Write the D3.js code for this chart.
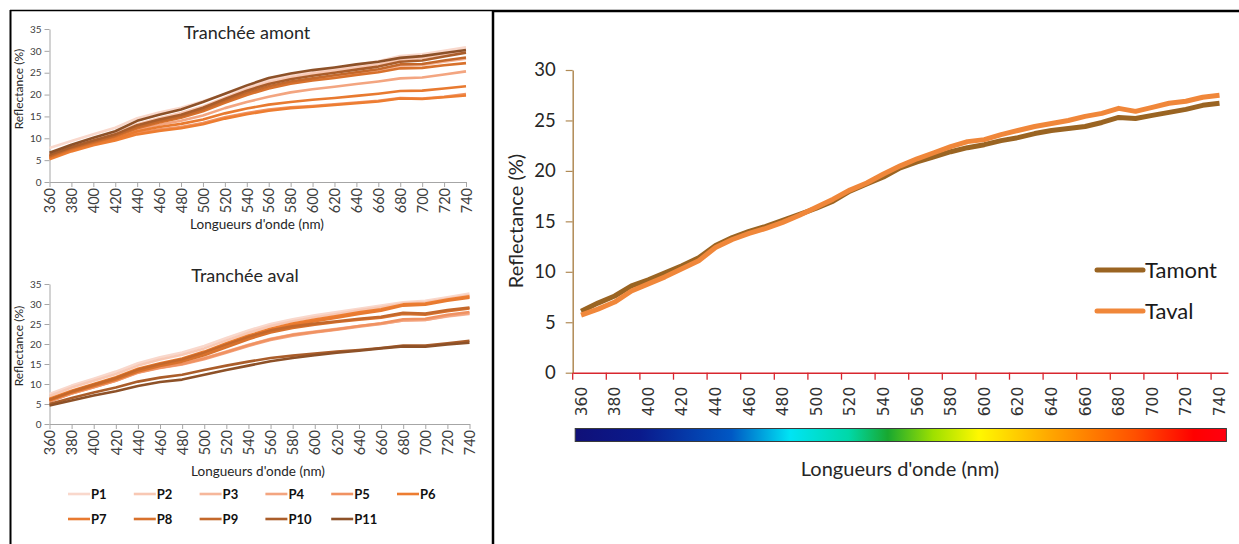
<!DOCTYPE html>
<html><head><meta charset="utf-8">
<script src="https://cdn.jsdelivr.net/npm/d3@7"></script>
<style>body{margin:0;background:#fff}svg{display:block}</style>
</head><body>
<svg id="c" width="1239" height="544"></svg>
<script>
// ---------- DATA ----------
const wl20 = [360,380,400,420,440,460,480,500,520,540,560,580,600,620,640,660,680,700,720,740];
const wl10 = [360,370,380,390,400,410,420,430,440,450,460,470,480,490,500,510,520,530,540,550,560,570,580,590,600,610,620,630,640,650,660,670,680,690,700,710,720,730,740];
const yTicksSmall = [0,5,10,15,20,25,30,35];
const yTicksBig = [0,5,10,15,20,25,30];
const seriesNames = ["P1","P2","P3","P4","P5","P6","P7","P8","P9","P10","P11"];
const seriesColors = ["#f9d8cc","#f8c8b4","#f6b79b","#f3a580","#f09262","#ed7d31","#e87a30","#d8712c","#c4682b","#aa5d2a","#8d5128"];

// Tranchée amont (values at wl20)
const amontP1  = [7.8,9.4,10.9,12.4,14.6,15.9,17.0,18.5,20.1,21.8,23.3,24.4,25.3,26.0,26.8,27.6,28.8,29.2,30.0,30.8];
const amontP2  = [6.3,8.2,9.7,11.1,13.2,14.6,15.8,17.3,19.3,21.2,22.8,23.9,24.8,25.5,26.2,26.9,28.0,28.4,29.2,29.9];
const amontP3  = [6.0,7.9,9.3,10.7,12.5,13.8,14.9,16.4,18.3,20.1,21.7,22.8,23.5,24.2,24.9,25.5,26.6,26.8,27.5,28.2];
const amontP4  = [5.8,7.5,8.9,10.2,12.0,13.1,14.0,15.2,16.9,18.3,19.5,20.5,21.2,21.8,22.4,23.0,23.7,23.9,24.6,25.3];
const amontP5  = [5.4,7.2,8.6,9.7,11.2,12.0,12.6,13.5,14.8,15.8,16.6,17.1,17.4,17.8,18.2,18.6,19.2,19.1,19.5,20.1];
const amontP6  = [5.2,7.0,8.4,9.5,10.9,11.7,12.3,13.2,14.5,15.5,16.3,16.9,17.2,17.6,18.0,18.4,19.1,19.0,19.4,19.8];
const amontP7  = [5.5,7.3,8.7,9.9,11.6,12.6,13.3,14.3,15.7,16.8,17.7,18.3,18.8,19.2,19.7,20.2,20.8,20.9,21.4,21.9];
const amontP8  = [5.7,7.6,9.0,10.4,12.3,13.6,14.7,16.2,18.1,19.9,21.4,22.5,23.2,23.8,24.5,25.1,26.0,26.1,26.7,27.2];
const amontP9  = [5.9,7.8,9.2,10.6,12.6,13.9,15.0,16.6,18.6,20.4,21.9,23.0,23.7,24.4,25.1,25.8,26.9,27.0,27.8,28.5];
const amontP10 = [6.2,8.0,9.5,10.9,13.0,14.3,15.4,17.0,19.0,20.9,22.4,23.5,24.3,25.0,25.7,26.4,27.5,27.8,28.7,29.6];
const amontP11 = [6.7,8.5,10.1,11.6,14.0,15.4,16.6,18.3,20.2,22.1,23.8,24.8,25.6,26.2,26.9,27.5,28.4,28.8,29.5,30.2];

// Tranchée aval (values at wl20)
const avalP1  = [7.5,9.6,11.3,13.1,15.2,16.7,17.9,19.5,21.5,23.4,25.0,26.2,27.2,28.0,28.8,29.6,30.4,30.8,31.7,32.6];
const avalP2  = [7.0,9.1,10.8,12.5,14.6,16.1,17.3,18.9,20.9,22.8,24.5,25.7,26.7,27.5,28.4,29.2,30.1,30.4,31.3,32.2];
const avalP3  = [5.8,7.7,9.3,10.9,13.1,14.3,15.2,16.5,18.1,19.8,21.3,22.4,23.1,23.8,24.5,25.1,25.9,26.0,26.9,27.5];
const avalP4  = [5.7,7.6,9.2,10.8,12.8,14.0,14.9,16.2,17.8,19.5,21.0,22.1,22.9,23.6,24.3,25.0,25.9,26.0,27.0,27.7];
const avalP5  = [5.6,7.6,9.2,10.8,12.9,14.1,15.0,16.4,18.0,19.7,21.2,22.3,23.0,23.7,24.5,25.2,26.2,26.3,27.3,28.0];
const avalP6  = [6.3,8.3,10.0,11.7,13.8,15.2,16.4,18.1,20.2,22.1,23.8,25.1,26.1,27.0,27.9,28.7,29.9,30.1,31.1,31.9];
const avalP7  = [6.0,8.0,9.7,11.3,13.4,14.8,16.0,17.7,19.7,21.7,23.4,24.7,25.7,26.6,27.5,28.3,29.6,29.8,30.8,31.6];
const avalP8  = [5.9,7.9,9.5,11.1,13.1,14.5,15.6,17.2,19.2,21.2,22.9,24.0,24.8,25.5,26.1,26.6,27.5,27.3,28.2,28.9];
const avalP9  = [6.1,8.1,9.8,11.5,13.6,15.0,16.2,17.9,19.9,21.8,23.4,24.4,25.1,25.7,26.3,26.8,27.8,27.6,28.5,29.1];
const avalP10 = [5.0,6.5,7.9,9.1,10.6,11.6,12.3,13.5,14.6,15.6,16.5,17.1,17.6,18.1,18.5,19.0,19.6,19.6,20.2,20.8];
const avalP11 = [4.6,5.9,7.1,8.2,9.5,10.5,11.1,12.3,13.5,14.6,15.7,16.5,17.2,17.8,18.3,18.9,19.4,19.3,19.9,20.3];

// Right chart (values at wl10)
const tamont = [6.1,6.9,7.6,8.6,9.2,9.9,10.6,11.4,12.6,13.4,14.0,14.5,15.1,15.7,16.3,17.0,18.0,18.7,19.4,20.3,20.9,21.4,21.9,22.3,22.6,23.0,23.3,23.7,24.0,24.2,24.4,24.8,25.3,25.2,25.5,25.8,26.1,26.5,26.7];
const taval  = [5.7,6.3,7.0,8.1,8.8,9.5,10.3,11.1,12.4,13.2,13.8,14.3,14.9,15.6,16.4,17.2,18.1,18.8,19.7,20.5,21.2,21.8,22.4,22.9,23.1,23.6,24.0,24.4,24.7,25.0,25.4,25.7,26.2,25.9,26.3,26.7,26.9,27.3,27.5];
const bigNames = ["Tamont","Taval"];
const bigColors = ["#9a6422","#f0873a"];

// spectrum colours
const spectrumStops = [
  [0,"#101078"],[0.1,"#0a1a8c"],[0.24,"#0058c4"],[0.33,"#00e4f4"],[0.42,"#00d8a8"],
  [0.48,"#18a830"],[0.55,"#9ee000"],[0.62,"#fff800"],[0.73,"#ffa600"],[0.86,"#ff5000"],[0.95,"#ff0000"],[1,"#ff0010"]
];

const amont = [amontP1,amontP2,amontP3,amontP4,amontP5,amontP6,amontP7,amontP8,amontP9,amontP10,amontP11];
const aval  = [avalP1,avalP2,avalP3,avalP4,avalP5,avalP6,avalP7,avalP8,avalP9,avalP10,avalP11];

// ---------- DRAW ----------
const svg = d3.select("#c");
const FONT = "Lato, 'Open Sans', sans-serif";

// panel borders
svg.append("line").attr("x1",10).attr("x2",493).attr("y1",10.5).attr("y2",10.5).attr("stroke","#000").attr("stroke-width",1.5);
svg.append("line").attr("x1",493).attr("x2",1239).attr("y1",11).attr("y2",11).attr("stroke","#000").attr("stroke-width",2.5);
svg.append("line").attr("x1",10.5).attr("x2",10.5).attr("y1",10).attr("y2",544).attr("stroke","#000").attr("stroke-width",2);
svg.append("line").attr("x1",493).attr("x2",493).attr("y1",10).attr("y2",544).attr("stroke","#000").attr("stroke-width",2.5);

function smallChart(data, o) {
  const x = d3.scaleLinear().domain([360,740]).range([o.x0, o.x1]);
  const y = d3.scaleLinear().domain([0,35]).range([o.y0, o.y1]);
  const g = svg.append("g");
  const xa = g.append("g").attr("transform",`translate(0,${o.y0})`)
    .call(d3.axisBottom(x).tickValues(wl20).tickSize(5).tickSizeOuter(0).tickFormat(d3.format("d")));
  xa.select(".domain").attr("stroke","#a6a6a6");
  xa.selectAll(".tick line").attr("stroke","#a6a6a6");
  xa.selectAll("text").attr("transform","rotate(-90)").attr("x",-6).attr("y",0).attr("dy","0.36em")
    .style("text-anchor","end").style("font-family",FONT).style("font-size","14.5px").attr("fill","#404040");
  const ya = g.append("g").attr("transform",`translate(${o.x0},0)`)
    .call(d3.axisLeft(y).tickValues(yTicksSmall).tickSize(5).tickSizeOuter(0));
  ya.select(".domain").attr("stroke","#a6a6a6");
  ya.selectAll(".tick line").attr("stroke","#a6a6a6");
  ya.selectAll("text").attr("x",-8).style("font-family",FONT).style("font-size","10px").attr("fill","#404040");
  const line = d3.line().x((d,i)=>x(wl20[i])).y(d=>y(d));
  data.forEach((s,k)=>{
    g.append("path").datum(s).attr("d",line).attr("fill","none")
      .attr("stroke",seriesColors[k]).attr("stroke-width",2.6).attr("stroke-linejoin","round");
  });
  g.append("text").attr("x",o.tx).attr("y",o.ty).attr("text-anchor","middle")
    .style("font-family",FONT).style("font-size","18px").attr("fill","#262626").text(o.title);
  g.append("text").attr("x",o.xtx).attr("y",o.xty).attr("text-anchor","middle")
    .style("font-family",FONT).style("font-size","13.5px").attr("fill","#262626").text("Longueurs d'onde (nm)");
  g.append("text").attr("transform",`translate(19,${o.yty}) rotate(-90)`).attr("text-anchor","middle")
    .attr("dy","0.35em").style("font-family",FONT).style("font-size","12px").attr("fill","#262626").text("Reflectance (%)");
}

smallChart(amont, {x0:49.5, x1:466, y0:182, y1:29, title:"Tranchée amont", tx:247, ty:39, xtx:257, xty:229, yty:89});
smallChart(aval,  {x0:49.5, x1:469.5, y0:424, y1:284, title:"Tranchée aval", tx:245, ty:282, xtx:258, xty:476, yty:346});

const legG = svg.append("g");
seriesNames.forEach((n,i)=>{
  const row = Math.floor(i/6), col = i%6;
  const lx = 68 + col*65.8, ly = 494 + row*25;
  legG.append("line").attr("x1",lx).attr("x2",lx+22).attr("y1",ly).attr("y2",ly)
    .attr("stroke",seriesColors[i]).attr("stroke-width",2.6);
  legG.append("text").attr("x",lx+23).attr("y",ly).attr("dy","0.36em")
    .style("font-family",FONT).style("font-size","13px").style("font-weight","bold").attr("fill","#111").text(n);
});

// ---------- Right chart ----------
const X0 = 572.7, X1 = 1227.9, Y0 = 372.7, Y1 = 70;
const xb = d3.scaleBand().domain(wl10).range([X0, X1]).paddingInner(0).paddingOuter(0);
const yb = d3.scaleLinear().domain([0,30]).range([Y0, Y1]);
const rg = svg.append("g");

const yba = rg.append("g").attr("transform",`translate(${X0},0)`)
  .call(d3.axisLeft(yb).tickValues(yTicksBig).tickSize(7).tickSizeOuter(0));
yba.select(".domain").attr("stroke","#b08a55").attr("stroke-width",1.5);
yba.selectAll(".tick line").attr("stroke","#b08a55").attr("stroke-width",1.2);
yba.selectAll("text").attr("x",-17).style("font-family",FONT).style("font-size","18.5px").attr("fill","#262626");

const evenCats = wl10.filter((d,i)=>i%2===0);
const xba = rg.append("g").attr("transform",`translate(0,${Y0})`)
  .call(d3.axisBottom(xb).tickValues(evenCats).tickSize(0).tickSizeOuter(0));
xba.select(".domain").attr("stroke","#d8262e").attr("stroke-width",1.5);
xba.selectAll("text").attr("transform","rotate(-90)").attr("x",-14).attr("y",0).attr("dy","0.36em")
  .style("text-anchor","end").style("font-family","'DejaVu Sans', sans-serif").style("font-size","15.5px").attr("fill","#333");
rg.append("g").selectAll("line").data(evenCats).join("line")
  .attr("x1",d=>xb(d)).attr("x2",d=>xb(d)).attr("y1",Y0).attr("y2",Y0+7)
  .attr("stroke","#d8262e").attr("stroke-width",1.3);

const bigLine = d3.line().x((d,i)=>xb(wl10[i])+xb.bandwidth()/2).y(d=>yb(d));
[tamont, taval].forEach((s,k)=>{
  rg.append("path").datum(s).attr("d",bigLine).attr("fill","none")
    .attr("stroke",bigColors[k]).attr("stroke-width",5).attr("stroke-linejoin","round");
});

bigNames.forEach((n,i)=>{
  const ly = 270 + i*41;
  rg.append("line").attr("x1",1097).attr("x2",1143).attr("y1",ly).attr("y2",ly)
    .attr("stroke",bigColors[i]).attr("stroke-width",5).attr("stroke-linecap","round");
  rg.append("text").attr("x",1145).attr("y",ly).attr("dy","0.36em")
    .style("font-family",FONT).style("font-size","22px").attr("fill","#1a1a1a").text(n);
});

rg.append("text").attr("transform","translate(516,221) rotate(-90)").attr("text-anchor","middle").attr("dy","0.35em")
  .style("font-family",FONT).style("font-size","20px").attr("fill","#262626").text("Reflectance (%)");
rg.append("text").attr("x",900).attr("y",476).attr("text-anchor","middle")
  .style("font-family",FONT).style("font-size","20px").attr("fill","#262626").text("Longueurs d'onde (nm)");

const defs = svg.append("defs");
const grad = defs.append("linearGradient").attr("id","spec").attr("x1","0%").attr("x2","100%").attr("y1","0%").attr("y2","0%");
spectrumStops.forEach(s=>grad.append("stop").attr("offset",s[0]).attr("stop-color",s[1]));
rg.append("rect").attr("x",xb(360)+2.5).attr("y",428.5).attr("width",(X1-X0)-4).attr("height",13)
  .attr("fill","url(#spec)").attr("stroke","#3a3a3a").attr("stroke-width",1);
</script>
</body></html>
